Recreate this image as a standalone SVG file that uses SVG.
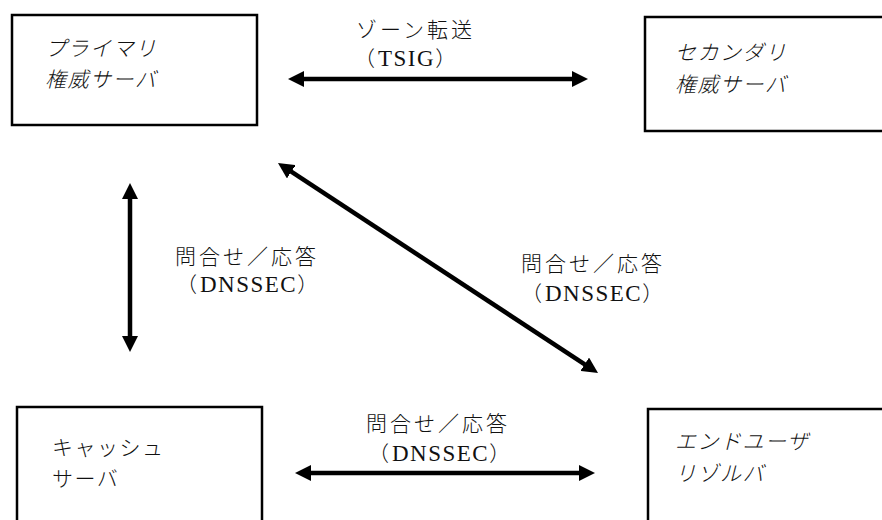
<svg xmlns="http://www.w3.org/2000/svg" width="882" height="520" viewBox="0 0 882 520">
<style>
.box{fill:#fff;stroke:#000;stroke-width:2.5}
.nl{font-family:"Noto Sans CJK JP",sans-serif;font-size:21px;letter-spacing:1.5px;fill:#111;font-weight:300}
.it{font-style:italic}
.el{font-family:"Noto Sans CJK JP",sans-serif;font-size:21px;letter-spacing:3px;fill:#111;font-weight:300}
.lat{font-family:"Liberation Serif","DejaVu Serif",serif;font-size:23px;letter-spacing:1.5px;font-weight:normal}
.conn{stroke:#000;stroke-width:4.5;fill:none;marker-start:url(#ah);marker-end:url(#ah)}
</style>
<defs>
<marker id="ah" viewBox="0 0 16 16" refX="1" refY="8" markerWidth="16" markerHeight="16" markerUnits="userSpaceOnUse" orient="auto-start-reverse">
<path d="M0,0 L16,8 L0,16 z" fill="#000"/>
</marker>
</defs>
<rect width="882" height="520" fill="#fff"/>
<g id="primary">
<rect class="box" x="12" y="15" width="245" height="110"/>
<text class="nl it" x="45" y="56">プライマリ</text>
<text class="nl it" x="45" y="87">権威サーバ</text>
</g>
<g id="secondary">
<rect class="box" x="645" y="17" width="260" height="114"/>
<text class="nl it" x="675" y="60">セカンダリ</text>
<text class="nl it" x="675" y="92">権威サーバ</text>
</g>
<g id="cache">
<rect class="box" x="17" y="407" width="245" height="130"/>
<text class="nl" x="52" y="455">キャッシュ</text>
<text class="nl" x="52" y="486">サーバ</text>
</g>
<g id="enduser">
<rect class="box" x="648" y="409" width="260" height="130"/>
<text class="nl it" x="675" y="449">エンドユーザ</text>
<text class="nl it" x="675" y="481">リゾルバ</text>
</g>
<g id="connectors">
<line class="conn" x1="303" y1="79" x2="573" y2="79"/>
<line class="conn" x1="130" y1="198" x2="130" y2="337"/>
<line class="conn" x1="290.5" y1="171.2" x2="585.5" y2="364.8"/>
<line class="conn" x1="310" y1="473" x2="580" y2="473"/>
</g>
<g id="labels">
<text class="el" x="356" y="37">ゾーン転送</text>
<text class="el" x="354" y="66">（<tspan class="lat">TSIG</tspan>）</text>
<text class="el" x="175" y="264">問合せ／応答</text>
<text class="el" x="176" y="292">（<tspan class="lat">DNSSEC</tspan>）</text>
<text class="el" x="521" y="271">問合せ／応答</text>
<text class="el" x="521" y="301">（<tspan class="lat">DNSSEC</tspan>）</text>
<text class="el" x="366" y="431">問合せ／応答</text>
<text class="el" x="368" y="461">（<tspan class="lat">DNSSEC</tspan>）</text>
</g>
</svg>
